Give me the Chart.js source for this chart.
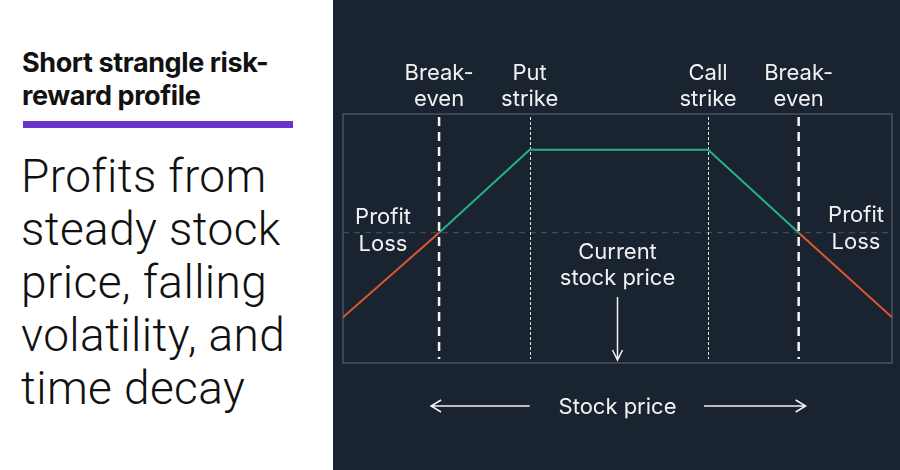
<!DOCTYPE html>
<html>
<head>
<meta charset="utf-8">
<script src="https://cdn.jsdelivr.net/npm/chart.js@4.4.1/dist/chart.umd.min.js"></script>
<style>
  html, body { margin: 0; padding: 0; }
  body { width: 900px; height: 470px; position: relative; background: #ffffff; overflow: hidden; }
  #left { position: absolute; left: 0; top: 0; width: 333px; height: 470px; background: #fff; }
  #title { position: absolute; left: 22px; top: 46px; font-family: "Inter", sans-serif; font-weight: 700;
           font-size: 27px; line-height: 33px; color: #111; letter-spacing: -0.4px; white-space: nowrap; }
  #bar { position: absolute; left: 23px; top: 121px; width: 270px; height: 7px; background: #6a35c9; }
  #sub { position: absolute; left: 21px; top: 150px; font-family: "Roboto", sans-serif; font-weight: 300;
         font-size: 46px; line-height: 53px; color: #111; letter-spacing: 0.4px; white-space: nowrap; }
  #wrap { position: absolute; left: 333px; top: 0; width: 567px; height: 470px; background: #1a2330; }
</style>
</head>
<body>
<div id="left">
  <div id="title">Short strangle risk-<br>reward profile</div>
  <div id="bar"></div>
  <div id="sub">Profits from<br>steady stock<br>price, falling<br>volatility, and<br>time decay</div>
</div>
<div id="wrap"><canvas id="plots" width="567" height="470"></canvas></div>
<script>
// stock price positions (x axis, 0-100) and profit/loss (y axis)
var breakEvenLow = 17.5;
var putStrike = 34;
var callStrike = 66.5;
var breakEvenHigh = 83;
var currentPrice = 50;
var lossX = [0, 17.5];          // left loss leg
var lossY = [-10.2, 0];
var profitX = [17.5, 34, 66.5, 83]; // profit zone
var profitY = [0, 10, 10, 0];
var loss2X = [83, 100];         // right loss leg
var loss2Y = [0, -10.2];

function pts(xs, ys) { return xs.map(function (x, i) { return { x: x, y: ys[i] }; }); }

var ink = '#f2f2f2';
var font = '"Inter", "Roboto", sans-serif';

// draws box, guide lines, labels and arrows using the chart scales
var overlay = {
    id: 'overlay',
    beforeDatasetsDraw: function (chart) {
        var c = chart.ctx, a = chart.chartArea;
        var xs = chart.scales.x, ys = chart.scales.y;
        c.save();
        c.strokeStyle = '#4a5361';
        c.lineWidth = 1.5;
        c.strokeRect(a.left, a.top, a.right - a.left, a.bottom - a.top);
        // zero line
        c.setLineDash([6, 5]);
        c.lineWidth = 1;
        c.strokeStyle = '#4a5361';
        c.beginPath();
        c.moveTo(a.left, ys.getPixelForValue(0));
        c.lineTo(a.right, ys.getPixelForValue(0));
        c.stroke();
        // strike lines (thin dotted)
        c.strokeStyle = '#e8e8e8';
        c.setLineDash([3, 2]);
        c.lineWidth = 1;
        [putStrike, callStrike].forEach(function (v) {
            var px = Math.round(xs.getPixelForValue(v)) + 0.5;
            c.beginPath(); c.moveTo(px, a.top + 3); c.lineTo(px, a.bottom - 4); c.stroke();
        });
        c.restore();
    },
    afterDatasetsDraw: function (chart) {
        var c = chart.ctx, a = chart.chartArea;
        var xs = chart.scales.x, ys = chart.scales.y;
        c.save();
        // break-even lines (thick dashes)
        c.strokeStyle = '#f5f5f5';
        c.setLineDash([9, 6]);
        c.lineWidth = 2.5;
        [breakEvenLow, breakEvenHigh].forEach(function (v) {
            var px = xs.getPixelForValue(v);
            c.beginPath(); c.moveTo(px, a.top + 3); c.lineTo(px, a.bottom - 4); c.stroke();
        });
        c.setLineDash([]);
        c.fillStyle = ink;
        c.font = '22px ' + font;
        c.textAlign = 'center';
        c.textBaseline = 'alphabetic';
        function two(x, y, l1, l2, gap) {
            c.fillText(l1, x, y);
            c.fillText(l2, x, y + (gap || 26));
        }
        two(xs.getPixelForValue(breakEvenLow), 80, 'Break-', 'even');
        two(xs.getPixelForValue(putStrike), 80, 'Put', 'strike');
        two(xs.getPixelForValue(callStrike), 80, 'Call', 'strike');
        two(xs.getPixelForValue(breakEvenHigh), 80, 'Break-', 'even');
        var z = ys.getPixelForValue(0);
        two(a.left + 40, z - 9, 'Profit', 'Loss', 27);
        two(a.right - 36, z - 11, 'Profit', 'Loss', 27);
        var cx = xs.getPixelForValue(currentPrice);
        two(cx, 259, 'Current', 'stock price');
        // down arrow
        c.strokeStyle = ink;
        c.lineWidth = 1.5;
        c.beginPath();
        c.moveTo(cx, 297); c.lineTo(cx, a.bottom - 3);
        c.moveTo(cx - 5, a.bottom - 13); c.lineTo(cx, a.bottom - 3); c.lineTo(cx + 5, a.bottom - 13);
        c.stroke();
        // axis caption with arrows
        c.fillText('Stock price', cx, 414);
        var ay = 406;
        var l1 = xs.getPixelForValue(breakEvenLow) - 8, l2 = xs.getPixelForValue(putStrike);
        var r1 = xs.getPixelForValue(callStrike) - 4, r2 = xs.getPixelForValue(breakEvenHigh) + 7;
        c.beginPath();
        c.moveTo(l2, ay); c.lineTo(l1, ay);
        c.moveTo(l1 + 10, ay - 6); c.lineTo(l1, ay); c.lineTo(l1 + 10, ay + 6);
        c.moveTo(r1, ay); c.lineTo(r2, ay);
        c.moveTo(r2 - 10, ay - 6); c.lineTo(r2, ay); c.lineTo(r2 - 10, ay + 6);
        c.stroke();
        c.restore();
    }
};

new Chart(document.getElementById('plots'), {
    type: 'line',
    data: {
        datasets: [
            { data: pts(lossX, lossY), borderColor: '#e0572f', borderWidth: 2, pointRadius: 0 },
            { data: pts(profitX, profitY), borderColor: '#22b38a', borderWidth: 2, pointRadius: 0 },
            { data: pts(loss2X, loss2Y), borderColor: '#e0572f', borderWidth: 2, pointRadius: 0 }
        ]
    },
    options: {
        responsive: false,
        animation: false,
        layout: { padding: { left: 10, right: 8, top: 114, bottom: 107 } },
        plugins: { legend: { display: false }, tooltip: { enabled: false } },
        scales: {
            x: { type: 'linear', min: 0, max: 100, display: false },
            y: { min: -15.7, max: 14.3, display: false }
        }
    },
    plugins: [overlay]
});
</script>
</body>
</html>
